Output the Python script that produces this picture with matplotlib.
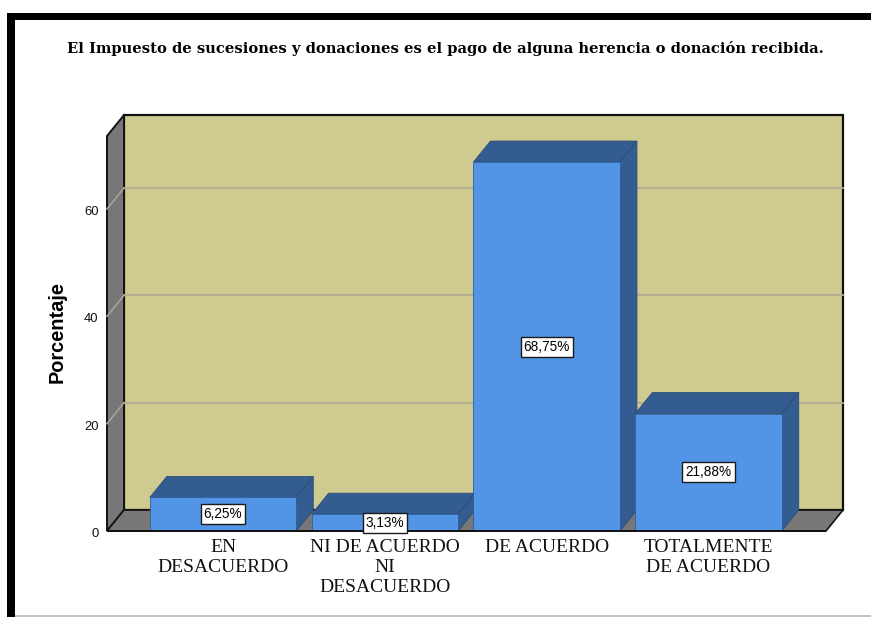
#!/usr/bin/env python3
import matplotlib
matplotlib.use("Agg")
import matplotlib.pyplot as plt
from matplotlib.patches import Polygon, Rectangle
from matplotlib.transforms import ScaledTranslation

categories = ["EN\nDESACUERDO", "NI DE ACUERDO\nNI\nDESACUERDO", "DE ACUERDO", "TOTALMENTE\nDE ACUERDO"]
values = [6.25, 3.13, 68.75, 21.88]
value_labels = ["6,25%", "3,13%", "68,75%", "21,88%"]
y_ticks = [0, 20, 40, 60]
title = "El Impuesto de sucesiones y donaciones es el pago de alguna herencia o donación recibida."

W, H = 871, 617
WALL = "#cfca8f"
SIDE = "#777777"
BAR = "#5294e6"
BAR_DARK = "#335c91"
GRID = "#b0ae90"
GRID_SIDE = "#a3a39c"

fig = plt.figure(figsize=(W / 100, H / 100), dpi=100, facecolor="white")


def frame_rect(x, y, w, h, color):
    # x, y given from the top left of the image, in pixels
    fig.add_artist(Rectangle((x / W, 1 - (y + h) / H), w / W, h / H, transform=fig.transFigure,
                             fc=color, ec="none", zorder=-5))


# outer frame of the screenshot
frame_rect(7, 13, W - 7, 7, "black")
frame_rect(7, 13, 8, H - 13, "black")
frame_rect(15, 615, W - 15, 1.5, "#c4c4c4")

# front plane of the chart
ax = fig.add_axes([107 / W, 1 - 531 / H, 719 / W, 395 / H])
ax.set_facecolor("none")
ax.set_xlim(-0.717, 3.726)
ax.set_ylim(0, 73.6)
for s in ax.spines.values():
    s.set_visible(False)

x0, x1 = ax.get_xlim()
y0, y1 = ax.get_ylim()
dx = 17 / 161.7
dy = 21 / 5.37
bar_w = 0.905


def poly(pts, fc, ec="none", lw=0.0, z=1):
    ax.add_patch(Polygon(pts, closed=True, fc=fc, ec=ec, lw=lw, zorder=z, clip_on=False, joinstyle="miter"))


# walls and floor
poly([(x0 + dx, y0 + dy), (x1 + dx, y0 + dy), (x1 + dx, y1 + dy), (x0 + dx, y1 + dy)], WALL, "#111111", 1.6)
poly([(x0, y0), (x0 + dx, y0 + dy), (x0 + dx, y1 + dy), (x0, y1)], SIDE, "#111111", 1.4)
poly([(x0, y0), (x1, y0), (x1 + dx, y0 + dy), (x0 + dx, y0 + dy)], SIDE, "#111111", 1.2)

for t in y_ticks[1:]:
    ax.plot([x0, x0 + dx], [t, t + dy], color=GRID_SIDE, lw=1.2, zorder=2, clip_on=False)
    ax.plot([x0 + dx, x1 + dx], [t + dy, t + dy], color=GRID, lw=1.3, zorder=2, clip_on=False)

# bars, left to right so the next one covers the side of the previous
for i, v in enumerate(values):
    z = 3 + i
    a, b = i - bar_w / 2, i + bar_w / 2
    poly([(a, v), (b, v), (b + dx, v + dy), (a + dx, v + dy)], BAR_DARK, "#2b4d7a", 0.6, z)
    poly([(b, 0), (b + dx, dy), (b + dx, v + dy), (b, v)], BAR_DARK, "#2b4d7a", 0.6, z)
    poly([(a, 0), (b, 0), (b, v), (a, v)], BAR, "#2f5f9c", 0.6, z)
    ax.text(i, v / 2, value_labels[i], ha="center", va="center", family="Liberation Sans", fontsize=9.8,
            color="black", zorder=10,
            bbox=dict(boxstyle="square,pad=0.22", fc="white", ec="#1a1a1a", lw=1.0))

ax.plot([x0, x1], [0, 0], color="#111111", lw=1.4, zorder=9, clip_on=False, solid_capstyle="butt")

ax.set_yticks(y_ticks)
ax.set_xticks(range(len(categories)))
ax.set_xticklabels(categories, family="Liberation Serif", fontsize=14, color="#111111", linespacing=1.2)
ax.tick_params(axis="x", length=0, pad=6)
ax.tick_params(axis="y", length=0, pad=6, labelsize=9.4, labelcolor="#111111")
nudge = ScaledTranslation(0, -1.5 / 100, fig.dpi_scale_trans)
for lab in ax.get_yticklabels():
    lab.set_family("Liberation Sans")
    lab.set_transform(lab.get_transform() + nudge)

fig.text(57 / W, 1 - 332 / H, "Porcentaje", rotation=90, ha="center", va="center",
         family="Liberation Sans", fontweight="bold", fontsize=14.4, color="black")
fig.text(445 / W, 1 - 48 / H, title, ha="center", va="center",
         family="DejaVu Serif", fontweight="bold", fontsize=10.6, color="black")

fig.savefig("out.png", dpi=100)
plt.close(fig)
